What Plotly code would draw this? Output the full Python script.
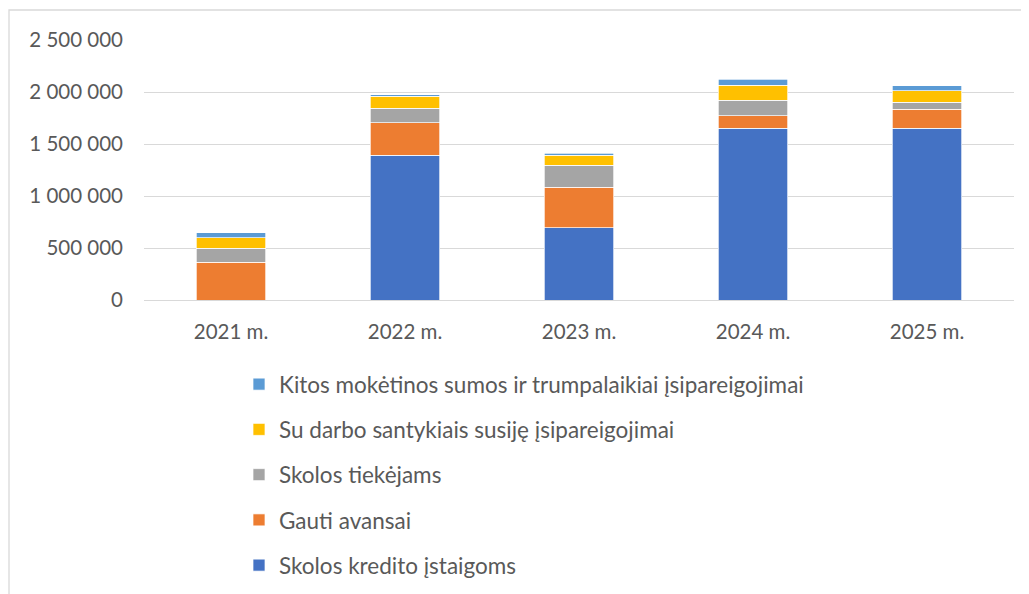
import plotly.graph_objects as go

categories = ["2021 m.", "2022 m.", "2023 m.", "2024 m.", "2025 m."]
series_names = [
    "Skolos kredito įstaigoms",
    "Gauti avansai",
    "Skolos tiekėjams",
    "Su darbo santykiais susiję įsipareigojimai",
    "Kitos mokėtinos sumos ir trumpalaikiai įsipareigojimai",
]
skolos_kredito = [0, 1391000, 696000, 1651000, 1651000]
gauti_avansai = [365000, 314000, 388000, 122000, 183000]
skolos_tiekejams = [135000, 140000, 214000, 150000, 67000]
su_darbo = [100000, 112000, 93000, 141000, 112000]
kitos = [48000, 19000, 19000, 58000, 45000]
tick_vals = [0, 500000, 1000000, 1500000, 2000000, 2500000]
tick_text = ["0", "500 000", "1 000 000", "1 500 000", "2 000 000", "2 500 000"]

colors = ["#4472C4", "#ED7D31", "#A5A5A5", "#FFC000", "#5B9BD5"]
values = [skolos_kredito, gauti_avansai, skolos_tiekejams, su_darbo, kitos]

FONT = "Lato"
TXT = "#595959"

fig = go.Figure()
n = len(series_names)
for i, (name, vals, col) in enumerate(zip(series_names, values, colors)):
    fig.add_trace(go.Bar(
        x=categories, y=vals, name=name,
        marker=dict(color=col, line=dict(color="white", width=0.7)),
        legendgroup=f"g{i}", legendrank=n - i,
    ))

# page body has an 8px margin; positions below are screen positions minus that
OFF = 8
W, H = 1029, 594
plot_left, plot_right, plot_top, plot_bottom = 144 - OFF, 1014 - OFF, 40 - OFF, 300 - OFF
L, R, T, B = plot_left, W - plot_right, plot_top, H - plot_bottom
pw = W - L - R
ph = H - T - B

fig.update_layout(
    width=W, height=H,
    barmode="stack", bargap=0.6,
    margin=dict(l=L, r=R, t=T, b=B, pad=0, autoexpand=False),
    plot_bgcolor="white", paper_bgcolor="white",
    font=dict(family=FONT, size=20.5, color=TXT),
    legend=dict(
        traceorder="grouped", tracegroupgap=13,
        x=(239 - OFF - L) / pw, xanchor="left",
        y=(plot_bottom - (363 - OFF)) / ph, yanchor="top",
        font=dict(family=FONT, size=22.5, color=TXT),
        bgcolor="rgba(0,0,0,0)",
    ),
    xaxis=dict(showgrid=False, showline=False, ticks="", ticklabelstandoff=17,
               tickfont=dict(family=FONT, size=20.5, color=TXT)),
    yaxis=dict(range=[0, 2500000], tickvals=tick_vals, ticktext=tick_text,
               showgrid=True, gridcolor="#D9D9D9", gridwidth=1.3,
               zeroline=True, zerolinecolor="#D9D9D9", zerolinewidth=1.3,
               showline=False, ticks="", ticklabelstandoff=20,
               tickfont=dict(family=FONT, size=20.5, color=TXT)),
    shapes=[dict(type="rect", xref="paper", yref="paper",
                 x0=(9 - OFF - L) / pw, x1=(W + 20 - L) / pw,
                 y0=(plot_bottom - (H + 20)) / ph, y1=(plot_bottom - (10 - OFF)) / ph,
                 line=dict(color="#D9D9D9", width=1.3), fillcolor="rgba(0,0,0,0)",
                 layer="below")],
)

fig.write_html("out.html")
